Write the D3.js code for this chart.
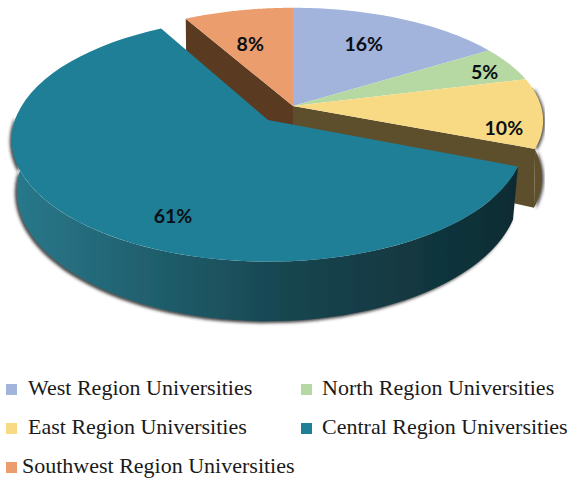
<!DOCTYPE html>
<html lang="en">
<head>
    <meta charset="UTF-8">
    <title>Universities by region</title>
    <script src="https://cdn.jsdelivr.net/npm/d3@7/dist/d3.min.js"></script>
    <style>
        html, body { margin: 0; padding: 0; background: #fff; }
        svg { display: block; }
    </style>
</head>
<body>
    <script>
        // data
        var categories = ["West Region Universities", "North Region Universities", "East Region Universities", "Central Region Universities", "Southwest Region Universities"];
        var values = [16, 5, 10, 61, 8];
        var colors = ["#a3b4dc", "#b6d8a2", "#f8da85", "#1f7f96", "#eb9d6e"];

        var w = 569;
        var h = 479;

        // layout: the pie is tilted, k is the perspective strength, shrink narrows the bottom face
        var mainDisc = { cx: 293, cy: 106, rx: 248, ry: 111, k: 0.13, depth: 56, shrink: 0.995 };
        var bigDisc = { cx: 268, cy: 120, rx: 253, ry: 119, k: 0.16, depth: 50, shrink: 0.98 };
        // radial fraction of each label on the slice's mid angle (x, y)
        var labelFx = [0.66, 0.885, 0.845, 0.5, 0.78];
        var labelFy = [0.71, 0.81, 3.1, 0.95, 0.65];
        // legend slots
        var legendX = [6, 301, 6, 301, 6];
        var legendTextX = [28, 322, 28, 322, 22];
        var legendY = [395, 395, 434, 434, 473];

        var pie = d3.pie().sort(null).value(function(d) { return d; });
        var slices = pie(values);

        function discFor(i) {
            return i === 3 ? bigDisc : mainDisc;
        }

        // angle on the disc to screen position. lower = bottom face of the pie
        function project(disc, a, f, lower) {
            var s = 1 / (1 + disc.k * Math.cos(a));
            var x = disc.rx * f * Math.sin(a) * s;
            var y = -disc.ry * f * Math.cos(a) * s;
            if (lower) {
                return [disc.cx + x * disc.shrink, disc.cy + y + disc.depth * s];
            }
            return [disc.cx + x, disc.cy + y];
        }

        function arcPoints(disc, a0, a1, lower) {
            return d3.range(0, 61).map(function(j) {
                return project(disc, a0 + (a1 - a0) * j / 60, 1, lower);
            });
        }

        var line = d3.line();

        var svg = d3.select("body")
                    .append("svg")
                    .attr("width", w)
                    .attr("height", h);

        var defs = svg.append("defs");

        var shadow = defs.append("filter")
                    .attr("id", "shadow")
                    .attr("x", "-10%").attr("y", "-10%")
                    .attr("width", "120%").attr("height", "130%");
        shadow.append("feDropShadow")
                    .attr("dx", -2).attr("dy", 2)
                    .attr("stdDeviation", 1.8)
                    .attr("flood-color", "#2b2b2b")
                    .attr("flood-opacity", 0.85);

        var shadowRight = defs.append("filter")
                    .attr("id", "shadowRight")
                    .attr("x", "-10%").attr("y", "-10%")
                    .attr("width", "120%").attr("height", "130%");
        shadowRight.append("feDropShadow")
                    .attr("dx", 2).attr("dy", 1)
                    .attr("stdDeviation", 1.6)
                    .attr("flood-color", "#2b2b2b")
                    .attr("flood-opacity", 0.8);

        var wallGrad = defs.append("linearGradient")
                    .attr("id", "wallGrad")
                    .attr("gradientUnits", "userSpaceOnUse")
                    .attr("x1", 11).attr("x2", 513)
                    .attr("y1", 0).attr("y2", 0);
        wallGrad.append("stop").attr("offset", "0").attr("stop-color", "#29798c");
        wallGrad.append("stop").attr("offset", "0.55").attr("stop-color", "#174650");
        wallGrad.append("stop").attr("offset", "1").attr("stop-color", "#0e2c33");

        // walls of the small slices, behind everything
        var east = slices[2];
        var sw = slices[4];
        var rad = Math.PI / 180;

        // outer rim on the right
        var rimTop = arcPoints(mainDisc, 80 * rad, east.endAngle, false);
        var rimBottom = arcPoints(mainDisc, 80 * rad, east.endAngle, true).reverse();
        svg.append("path")
            .attr("d", line(rimTop.concat(rimBottom)) + "Z")
            .attr("fill", "#5e4f2c")
            .attr("filter", "url(#shadowRight)");

        // cut face under the east slice
        svg.append("path")
            .attr("d", line([
                project(mainDisc, 0, 0, false),
                project(mainDisc, east.endAngle, 1, false),
                project(mainDisc, east.endAngle, 1, true),
                project(mainDisc, 0, 0, true)
            ]) + "Z")
            .attr("fill", "#5e4f2c");

        // cut face under the southwest slice
        svg.append("path")
            .attr("d", line([
                project(mainDisc, 0, 0, false),
                project(mainDisc, sw.startAngle, 1, false),
                project(mainDisc, sw.startAngle, 1, true),
                project(mainDisc, 0, 0, true)
            ]) + "Z")
            .attr("fill", "#5b3a22");

        function topPath(d, i) {
            var disc = discFor(i);
            var pts = [project(disc, 0, 0, false)].concat(arcPoints(disc, d.startAngle, d.endAngle, false));
            return line(pts) + "Z";
        }

        // central slice wall goes in front of the others
        var big = slices[3];
        var wallEnd = 272 * rad;
        var wallTop = arcPoints(bigDisc, big.startAngle, wallEnd, false);
        var wallBottom = arcPoints(bigDisc, big.startAngle, wallEnd, true).reverse();

        var order = [0, 1, 2, 4];
        svg.selectAll("path.top")
            .data(order)
            .enter()
            .append("path")
            .attr("class", "top")
            .attr("d", function(i) { return topPath(slices[i], i); })
            .attr("fill", function(i) { return colors[i]; });

        svg.append("path")
            .attr("d", line(wallTop.concat(wallBottom)) + "Z")
            .attr("fill", "url(#wallGrad)")
            .attr("filter", "url(#shadow)");

        svg.append("path")
            .attr("d", topPath(big, 3))
            .attr("fill", colors[3]);

        // percent labels
        svg.selectAll("text.pct")
            .data(slices)
            .enter()
            .append("text")
            .attr("class", "pct")
            .attr("x", function(d, i) {
                var a = (d.startAngle + d.endAngle) / 2;
                return project(discFor(i), a, labelFx[i], false)[0];
            })
            .attr("y", function(d, i) {
                var a = (d.startAngle + d.endAngle) / 2;
                return project(discFor(i), a, labelFy[i], false)[1];
            })
            .attr("dy", "0.35em")
            .attr("text-anchor", "middle")
            .attr("font-family", "Lato, sans-serif")
            .attr("font-weight", "bold")
            .attr("font-size", "19.5px")
            .attr("fill", "#0a0f14")
            .text(function(d) { return d.value + "%"; });

        // legend
        var legend = svg.selectAll("g.legend")
            .data(categories)
            .enter()
            .append("g")
            .attr("class", "legend");

        legend.append("rect")
            .attr("x", function(d, i) { return legendX[i]; })
            .attr("y", function(d, i) { return legendY[i] - 11; })
            .attr("width", 11)
            .attr("height", 11)
            .attr("fill", function(d, i) { return colors[i]; });

        legend.append("text")
            .attr("x", function(d, i) { return legendTextX[i]; })
            .attr("y", function(d, i) { return legendY[i]; })
            .attr("font-family", "'Liberation Serif', serif")
            .attr("font-size", "22px")
            .attr("fill", "#1a1a1a")
            .text(function(d) { return d; });
    </script>
</body>
</html>
